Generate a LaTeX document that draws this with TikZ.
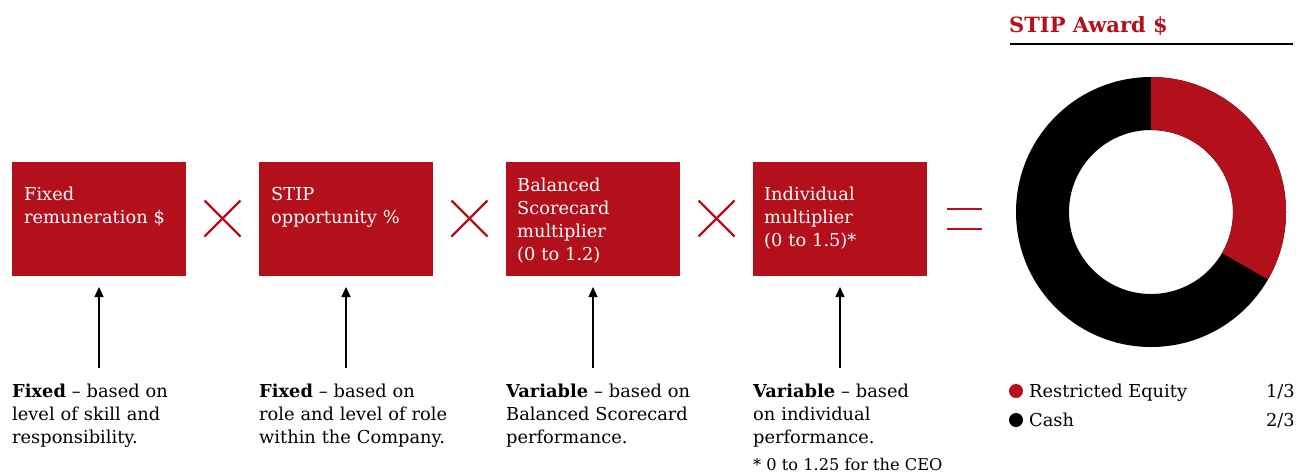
\documentclass[tikz,border=0pt]{standalone}
\usepackage{fontspec}
\setmainfont{DejaVu Serif}
\usetikzlibrary{arrows.meta}
\definecolor{stipred}{RGB}{179,16,27}
\begin{document}
\begin{tikzpicture}[x=1pt,y=-1pt,
  box/.style={fill=stipred,draw=none,minimum width=174pt,minimum height=114pt,inner sep=0,outer sep=0},
  btxt/.style={font=\fontsize{17.8}{23}\selectfont,text=white,align=left,anchor=base west,inner sep=0,text width=165pt},
  dtxt/.style={font=\fontsize{17.8}{23}\selectfont,text=black,align=left,anchor=base west,inner sep=0,text width=200pt},
  op/.style={draw=stipred,line width=2.2pt},
  arr/.style={line width=1.3pt,-{Triangle[length=10pt,width=9pt]},shorten >=11pt},
  dot/.style={circle,inner sep=0,minimum size=14pt}
]
\useasboundingbox (0,0) rectangle (1296,475);
% boxes
\node[box] (b1) at (99,219) {};
\node[box] (b2) at (346,219) {};
\node[box] (b3) at (593,219) {};
\node[box] (b4) at (840,219) {};
\node[btxt] (l1) at (24,200) {Fixed\\remuneration \$};
\node[btxt] (l2) at (271,200) {STIP\\opportunity \%};
\node[btxt] (l3) at (517,191) {Balanced\\Scorecard\\multiplier\\(0 to 1.2)};
\node[btxt] (l4) at (764,200) {Individual\\multiplier\\(0 to 1.5)*};
% operators
\foreach \cx/\nm in {222.5/x1,469.5/x2,716.5/x3}{
  \coordinate (\nm) at (\cx,218.5);
  \draw[op] ([shift={(-18pt,18pt)}]\nm) -- ([shift={(18pt,-18pt)}]\nm);
  \draw[op] ([shift={(-18pt,-18pt)}]\nm) -- ([shift={(18pt,18pt)}]\nm);
}
\coordinate (eq) at (964.5,219);
\draw[op] ([shift={(-17.5pt,10pt)}]eq) -- ([shift={(17.5pt,10pt)}]eq);
\draw[op] ([shift={(-17.5pt,-10pt)}]eq) -- ([shift={(17.5pt,-10pt)}]eq);
% arrows
\coordinate (a1) at (99,368);
\coordinate (a2) at (346,368);
\coordinate (a3) at (593,368);
\coordinate (a4) at (840,368);
\draw[arr] (a1) -- (b1);
\draw[arr] (a2) -- (b2);
\draw[arr] (a3) -- (b3);
\draw[arr] (a4) -- (b4);
% descriptions
\node[dtxt] (d1) at (12,397) {\textbf{Fixed} – based on\\level of skill and\\responsibility.};
\node[dtxt] (d2) at (259,397) {\textbf{Fixed} – based on\\role and level of role\\within the Company.};
\node[dtxt] (d3) at (506,397) {\textbf{Variable} – based on\\Balanced Scorecard\\performance.};
\node[dtxt] (d4) at (753,397) {\textbf{Variable} – based\\on individual\\performance.};
\node[anchor=base west,inner sep=0,font=\fontsize{16.2}{18}\selectfont] (fn) at (753,470) {* 0 to 1.25 for the CEO};
% title
\node[anchor=base west,inner sep=0,font=\fontsize{21}{24}\bfseries\selectfont,text=stipred] (title) at (1009,32) {STIP Award \$};
\coordinate (r1) at (1010,44);
\coordinate (r2) at (1293,44);
\draw[line width=1.2pt] (r1) -- (r2);
% donut
\coordinate (c) at (1151,212);
\fill[black,even odd rule] (c) circle (135pt) (c) circle (82pt);
\fill[stipred] ([shift={(90:135pt)}]c) arc[start angle=90,end angle=-30,radius=135pt]
  -- ([shift={(-30:82pt)}]c) arc[start angle=-30,end angle=90,radius=82pt] -- cycle;
% legend
\node[dot,fill=stipred] (g1) at (1016,391) {};
\node[dot,fill=black] (g2) at (1016,420) {};
\node[dtxt,text width=] (e1) at (1029,397) {Restricted Equity};
\node[dtxt,text width=] (e2) at (1029,426) {Cash};
\node[anchor=base east,inner sep=0,font=\fontsize{17.8}{23}\selectfont] (v1) at (1295,397) {1/3};
\node[anchor=base east,inner sep=0,font=\fontsize{17.8}{23}\selectfont] (v2) at (1295,426) {2/3};
\end{tikzpicture}
\end{document}
